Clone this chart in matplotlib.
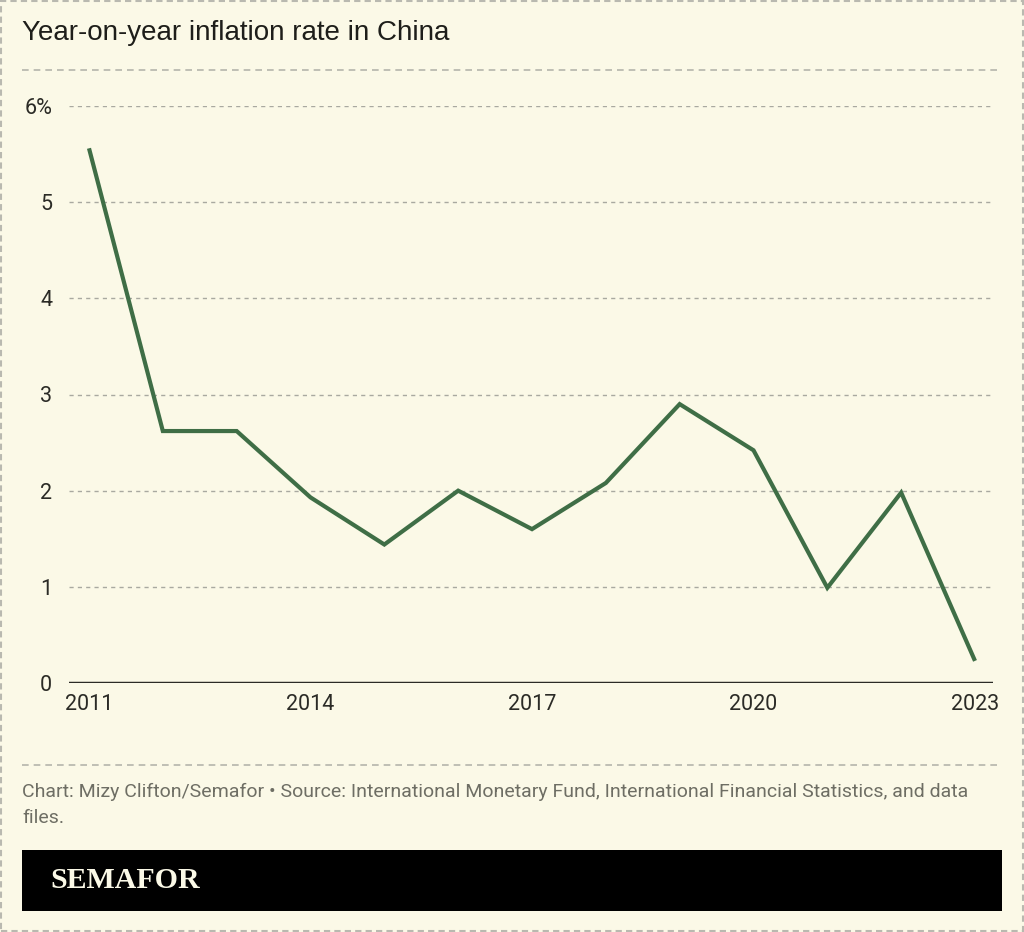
import matplotlib
matplotlib.use("Agg")
import matplotlib.pyplot as plt
from matplotlib.patches import Rectangle
from matplotlib.lines import Line2D

# data
years = [2011, 2012, 2013, 2014, 2015, 2016, 2017, 2018, 2019, 2020, 2021, 2022, 2023]
inflation = [5.56, 2.62, 2.62, 1.93, 1.44, 2.00, 1.60, 2.08, 2.90, 2.42, 0.99, 1.98, 0.23]
xticks = [2011, 2014, 2017, 2020, 2023]
yticks = [0, 1, 2, 3, 4, 5, 6]
ylabels = ["0", "1", "2", "3", "4", "5", "6%"]

bg = "#fbf9e7"
green = "#3f6e46"
W, H = 1024, 932

fig = plt.figure(figsize=(W / 100, H / 100), dpi=100, facecolor=bg)

def fx(px):
    return px / W

def fy(py):
    return 1 - py / H

# plot area: left 69px, right 993px, y=0 at 683px, y=6 at 106px
ax = fig.add_axes([fx(69), fy(683), fx(993 - 69), fy(106) - fy(683)])
ax.set_facecolor(bg)
x0 = 2011 - 20 / 73.83
x1 = 2023 + 18 / 73.83
ax.set_xlim(x0, x1)
ax.set_ylim(0, 6)

for v in yticks[1:]:
    ax.axhline(v, color="#a9a9a0", lw=1, ls=(0, (3, 3)), zorder=1)
ax.axhline(0, color="#2b2b26", lw=2.5, zorder=2)

ax.plot(years, inflation, color=green, lw=3, solid_joinstyle="miter",
        solid_capstyle="butt", zorder=3, clip_on=False)

for s in ax.spines.values():
    s.set_visible(False)
ax.set_xticks(xticks)
ax.set_xticklabels([str(t) for t in xticks], fontsize=15.5, family="Roboto", color="#2b2b26")
ax.set_yticks(yticks)
ax.set_yticklabels(ylabels, fontsize=15.5, family="Roboto", color="#2b2b26")
ax.tick_params(axis="both", length=0)
ax.tick_params(axis="x", pad=8)
ax.tick_params(axis="y", pad=12)

# title and footer
fig.text(fx(22), fy(33), "Year-on-year inflation rate in China", fontsize=20,
         family="Liberation Sans", color="#1e1e1a", va="center", ha="left")
fig.add_artist(Line2D([fx(22), fx(1002)], [fy(70), fy(70)], color="#b5b5ac",
                      lw=1.2, ls=(0, (4, 3))))
fig.add_artist(Line2D([fx(22), fx(1002)], [fy(765), fy(765)], color="#b5b5ac",
                      lw=1.2, ls=(0, (4, 3))))
fig.text(fx(22), fy(792), "Chart: Mizy Clifton/Semafor \u2022 Source: International Monetary Fund, International Financial Statistics, and data",
         fontsize=14, family="Roboto", color="#6e6e64", va="center", ha="left")
fig.text(fx(22), fy(818), "files.", fontsize=14, family="Roboto", color="#6e6e64",
         va="center", ha="left")

fig.add_artist(Rectangle((fx(22), fy(911)), fx(1002 - 22), fy(850) - fy(911),
                         transform=fig.transFigure, facecolor="black", edgecolor="none"))
fig.text(fx(50), fy(881), "SEMAFOR", fontsize=21.5, family="Liberation Serif", weight="bold",
         color=bg, va="center", ha="left")

# dashed outer border
fig.add_artist(Rectangle((0.001, 0.001), 0.998, 0.998, transform=fig.transFigure,
                         facecolor="none", edgecolor="#b9b9b0", lw=1.5, ls=(0, (3, 2))))

fig.savefig("out.png", dpi=100, facecolor=bg)
